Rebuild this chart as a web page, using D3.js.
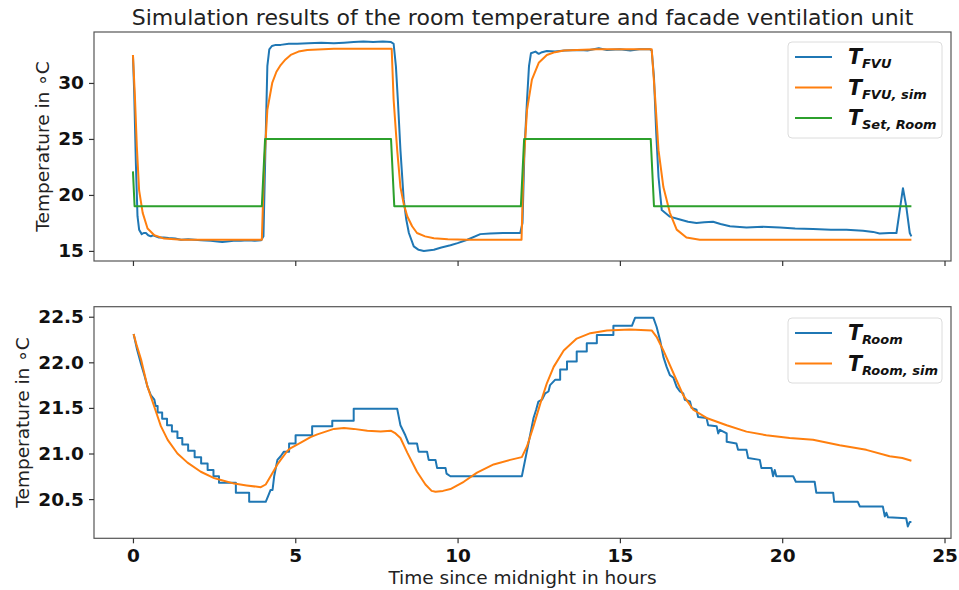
<!DOCTYPE html>
<html><head><meta charset="utf-8">
<script src="https://cdn.jsdelivr.net/npm/d3@7"></script>
<style>
body{margin:0;background:#fff;}
svg{display:block;font-family:"DejaVu Sans",sans-serif;}
</style></head>
<body><svg id="c" width="959" height="590"></svg>
<script>
const titleText = "Simulation results of the room temperature and facade ventilation unit";
const xLabelText = "Time since midnight in hours";
const yLabelText = "Temperature in \u2218C";
const xTicks = [0, 5, 10, 15, 20, 25];
const yTicksTop = [15, 20, 25, 30];
const yTicksBottom = [20.5, 21.0, 21.5, 22.0, 22.5];
const colors = ["#1f77b4", "#ff7f0e", "#2ca02c"];

const fvuMeasured = [[0.0,32.5],[0.04,29.0],[0.09,22.8],[0.14,18.1],[0.19,16.9],[0.27,16.5],[0.33,16.6],[0.40,16.6],[0.47,16.4],[0.55,16.3],[0.62,16.4],[0.70,16.3],[0.80,16.2],[0.95,16.2],[1.10,16.15],[1.30,16.1],[1.48,16.0],[1.70,16.05],[1.90,16.0],[2.10,15.95],[2.40,15.9],[2.60,15.85],[2.75,15.8],[2.90,15.85],[3.10,15.9],[3.32,15.9],[3.55,15.95],[3.75,15.9],[3.95,15.95],[4.02,16.3],[4.08,24.0],[4.14,31.5],[4.20,33.0],[4.28,33.3],[4.40,33.4],[4.55,33.4],[4.80,33.5],[5.06,33.5],[5.40,33.55],[5.80,33.6],[6.19,33.55],[6.50,33.6],[6.80,33.65],[7.10,33.7],[7.40,33.65],[7.70,33.7],[7.95,33.65],[8.03,33.5],[8.10,31.5],[8.16,28.5],[8.24,24.0],[8.34,19.6],[8.42,17.8],[8.50,16.6],[8.65,15.4],[8.80,15.1],[8.96,15.0],[9.27,15.1],[9.50,15.3],[9.78,15.5],[10.0,15.7],[10.3,16.0],[10.7,16.5],[11.0,16.55],[11.4,16.6],[11.93,16.6],[12.0,17.5],[12.06,24.0],[12.14,28.5],[12.20,31.5],[12.26,32.65],[12.40,32.8],[12.50,32.6],[12.60,32.75],[12.75,32.85],[13.0,32.8],[13.3,32.9],[13.78,32.95],[14.0,32.9],[14.35,33.1],[14.6,32.95],[15.0,33.0],[15.32,32.9],[15.6,33.0],[15.93,33.0],[15.98,32.9],[16.05,30.5],[16.12,25.5],[16.19,21.6],[16.29,18.65],[16.54,18.06],[16.85,17.8],[17.1,17.6],[17.36,17.5],[17.6,17.55],[17.87,17.6],[18.1,17.4],[18.39,17.2],[18.9,17.1],[19.4,17.15],[19.93,17.1],[20.4,17.0],[20.95,16.95],[21.5,16.9],[21.98,16.9],[22.49,16.8],[22.8,16.7],[23.0,16.55],[23.3,16.6],[23.52,16.6],[23.64,19.0],[23.72,20.6],[23.82,19.0],[23.93,16.6],[23.98,16.3]];

const fvuSim = [[0.0,32.5],[0.06,28.8],[0.12,24.3],[0.19,20.4],[0.30,18.4],[0.45,17.0],[0.66,16.4],[0.96,16.1],[1.5,16.0],[3.97,16.0],[4.04,22.5],[4.14,27.6],[4.29,30.0],[4.42,31.0],[4.55,31.6],[4.70,32.1],[4.86,32.5],[5.1,32.8],[5.37,32.95],[6.19,33.05],[7.97,33.05],[8.03,28.5],[8.14,24.0],[8.24,20.7],[8.34,19.2],[8.45,18.1],[8.6,17.2],[8.75,16.6],[9.0,16.3],[9.27,16.13],[9.7,16.05],[10.3,16.0],[11.97,16.0],[12.03,22.5],[12.14,27.6],[12.29,30.3],[12.5,31.8],[12.75,32.5],[13.0,32.75],[13.27,32.9],[14.29,33.0],[15.98,33.0],[16.09,28.5],[16.19,24.0],[16.34,20.7],[16.54,18.4],[16.75,16.9],[17.05,16.2],[17.46,16.0],[23.98,16.0]];

const setRoom = [[0.0,22.1],[0.05,19.0],[3.97,19.0],[4.07,25.0],[7.95,25.0],[8.05,19.0],[11.95,19.0],[12.05,25.0],[15.95,25.0],[16.05,19.0],[23.98,19.0]];

const roomMeasured = [[0.02,22.31],[0.12,22.15],[0.25,21.98],[0.35,21.86],[0.45,21.73],[0.55,21.64],[0.66,21.59],[0.70,21.52],[0.76,21.52],[0.76,21.45],[0.90,21.45],[0.90,21.38],[1.05,21.38],[1.05,21.31],[1.20,21.31],[1.20,21.24],[1.37,21.24],[1.37,21.17],[1.52,21.17],[1.52,21.10],[1.70,21.10],[1.70,21.03],[1.90,21.03],[1.90,20.96],[2.10,20.96],[2.10,20.89],[2.30,20.89],[2.30,20.82],[2.48,20.82],[2.48,20.75],[2.65,20.75],[2.65,20.68],[3.17,20.68],[3.17,20.57],[3.58,20.57],[3.58,20.47],[4.09,20.47],[4.16,20.53],[4.24,20.60],[4.30,20.60],[4.35,20.75],[4.45,20.93],[4.55,20.97],[4.65,21.02],[4.81,21.02],[4.81,21.11],[5.01,21.11],[5.01,21.20],[5.52,21.20],[5.52,21.30],[6.14,21.30],[6.14,21.36],[6.80,21.36],[6.80,21.49],[8.14,21.49],[8.24,21.31],[8.39,21.20],[8.49,21.11],[8.75,21.11],[8.80,21.02],[9.06,21.02],[9.11,20.93],[9.32,20.93],[9.37,20.84],[9.63,20.84],[9.66,20.78],[9.78,20.75],[11.98,20.75],[12.34,21.39],[12.42,21.48],[12.49,21.57],[12.60,21.59],[12.70,21.66],[12.80,21.68],[12.85,21.75],[13.01,21.81],[13.16,21.81],[13.16,21.92],[13.37,21.92],[13.37,22.01],[13.67,22.01],[13.67,22.12],[13.98,22.12],[13.98,22.21],[14.29,22.21],[14.29,22.30],[14.80,22.30],[14.80,22.40],[15.37,22.40],[15.47,22.49],[16.03,22.49],[16.13,22.39],[16.24,22.24],[16.34,22.06],[16.44,21.95],[16.54,21.86],[16.65,21.83],[16.75,21.73],[16.85,21.68],[16.95,21.66],[17.00,21.59],[17.16,21.57],[17.21,21.50],[17.36,21.48],[17.41,21.40],[17.67,21.39],[17.72,21.31],[17.98,21.30],[18.03,21.22],[18.08,21.26],[18.29,21.22],[18.29,21.13],[18.59,21.11],[18.64,21.04],[18.90,21.04],[18.95,20.95],[19.31,20.93],[19.36,20.84],[19.67,20.84],[19.72,20.75],[19.77,20.82],[19.82,20.75],[20.34,20.75],[20.42,20.69],[21.00,20.69],[21.05,20.57],[21.57,20.57],[21.60,20.47],[22.33,20.47],[22.39,20.42],[23.10,20.42],[23.16,20.31],[23.21,20.35],[23.26,20.30],[23.82,20.29],[23.87,20.20],[23.93,20.25],[23.98,20.25]];

const roomSim = [[0.02,22.31],[0.12,22.18],[0.25,22.03],[0.45,21.73],[0.66,21.51],[0.86,21.30],[1.07,21.15],[1.37,21.00],[1.68,20.90],[2.09,20.80],[2.50,20.73],[2.71,20.71],[3.12,20.67],[3.50,20.65],[3.94,20.63],[4.09,20.66],[4.24,20.75],[4.45,20.88],[4.55,20.93],[4.76,21.03],[4.86,21.06],[5.17,21.12],[5.47,21.18],[5.68,21.21],[6.19,21.27],[6.50,21.28],[6.80,21.27],[7.22,21.25],[7.63,21.24],[7.94,21.25],[8.09,21.22],[8.24,21.17],[8.45,21.01],[8.75,20.80],[9.01,20.66],[9.20,20.59],[9.32,20.58],[9.55,20.59],[9.78,20.61],[10.19,20.69],[10.60,20.79],[11.11,20.88],[11.62,20.93],[11.98,20.96],[12.14,21.08],[12.34,21.30],[12.55,21.55],[12.75,21.77],[12.96,21.95],[13.27,22.13],[13.67,22.26],[14.09,22.32],[14.60,22.35],[15.31,22.36],[15.98,22.35],[16.13,22.28],[16.34,22.13],[16.65,21.88],[16.95,21.64],[17.26,21.48],[17.67,21.39],[18.29,21.31],[18.90,21.24],[19.51,21.20],[20.23,21.17],[20.95,21.15],[21.77,21.09],[22.59,21.04],[23.31,20.97],[23.70,20.95],[23.98,20.92]];

const topLegend = [["T","FVU"],["T","FVU, sim"],["T","Set, Room"]];
const bottomLegend = [["T","Room"],["T","Room, sim"]];

const svg = d3.select("#c");
const L = 94, R = 951;
const x = d3.scaleLinear().domain([-1.2, 25.2]).range([L, R]);
const yTop = d3.scaleLinear().domain([14.1, 34.55]).range([261, 32]);
const yBot = d3.scaleLinear().domain([20.07, 22.61]).range([538.3, 306.7]);

function panel(y, y0, y1, yTicks, fmt, series, showXLabels, legend, legBox, ylabX) {
  const g = svg.append("g");
  const clipId = "clip" + Math.round(y0);
  svg.append("clipPath").attr("id", clipId).append("rect").attr("x", L).attr("y", y0).attr("width", R - L).attr("height", y1 - y0);
  series.forEach((s, i) => {
    g.append("path").datum(s).attr("clip-path", `url(#${clipId})`)
      .attr("fill", "none").attr("stroke", colors[i]).attr("stroke-width", 2).attr("stroke-linejoin", "round")
      .attr("d", d3.line().x(d => x(d[0])).y(d => y(d[1])));
  });
  g.append("rect").attr("x", L).attr("y", y0).attr("width", R - L).attr("height", y1 - y0)
    .attr("fill", "none").attr("stroke", "#555").attr("stroke-width", 1.2);
  const xa = g.append("g").attr("transform", `translate(0,${y1})`)
    .call(d3.axisBottom(x).tickValues(xTicks).tickSize(5).tickPadding(6).tickFormat(showXLabels ? d3.format("d") : () => ""));
  xa.select(".domain").remove();
  const ya = g.append("g").attr("transform", `translate(${L},0)`)
    .call(d3.axisLeft(y).tickValues(yTicks).tickSize(5).tickPadding(5).tickFormat(fmt));
  ya.select(".domain").remove();
  [xa, ya].forEach(a => {
    a.selectAll(".tick line").attr("stroke", "#333").attr("stroke-width", 1.2);
    a.selectAll(".tick text").attr("font-family", "DejaVu Sans").attr("font-weight", "bold").attr("font-size", 18.5).attr("fill", "#111");
  });
  g.append("text").attr("transform", `translate(${ylabX},${(y0 + y1) / 2}) rotate(-90)`)
    .attr("text-anchor", "middle").attr("dominant-baseline", "central")
    .attr("font-size", 18.5).attr("fill", "#222").text(yLabelText);
  g.append("rect").attr("x", legBox[0]).attr("y", legBox[1]).attr("width", legBox[2]).attr("height", legBox[3])
    .attr("rx", 4).attr("fill", "rgba(255,255,255,0.8)").attr("stroke", "#dcdcdc").attr("stroke-width", 1);
  legend.forEach((e, i) => {
    const ly = legBox[1] + 15 + i * 30.5;
    g.append("line").attr("x1", 795).attr("x2", 832).attr("y1", ly).attr("y2", ly)
      .attr("stroke", colors[i]).attr("stroke-width", 2);
    const t = g.append("text").attr("x", 848).attr("y", ly + 7)
      .attr("font-family", "DejaVu Sans").attr("font-weight", "bold").attr("font-style", "italic").attr("fill", "#111");
    t.append("tspan").attr("font-size", 20.5).text(e[0]);
    t.append("tspan").attr("font-size", 13).attr("dy", 4).text(e[1]);
  });
}

panel(yTop, 32, 261, yTicksTop, d3.format("d"), [fvuMeasured, fvuSim, setRoom], false, topLegend, [788, 42, 154, 96], 42);
panel(yBot, 306.7, 538.3, yTicksBottom, d3.format(".1f"), [roomMeasured, roomSim], true, bottomLegend, [788, 318, 154, 65], 22);

svg.append("text").attr("x", (L + R) / 2).attr("y", 25).attr("text-anchor", "middle")
  .attr("font-size", 22).attr("fill", "#222").text(titleText);
svg.append("text").attr("x", (L + R) / 2).attr("y", 584).attr("text-anchor", "middle")
  .attr("font-size", 18.5).attr("fill", "#222").text(xLabelText);
</script></body></html>
